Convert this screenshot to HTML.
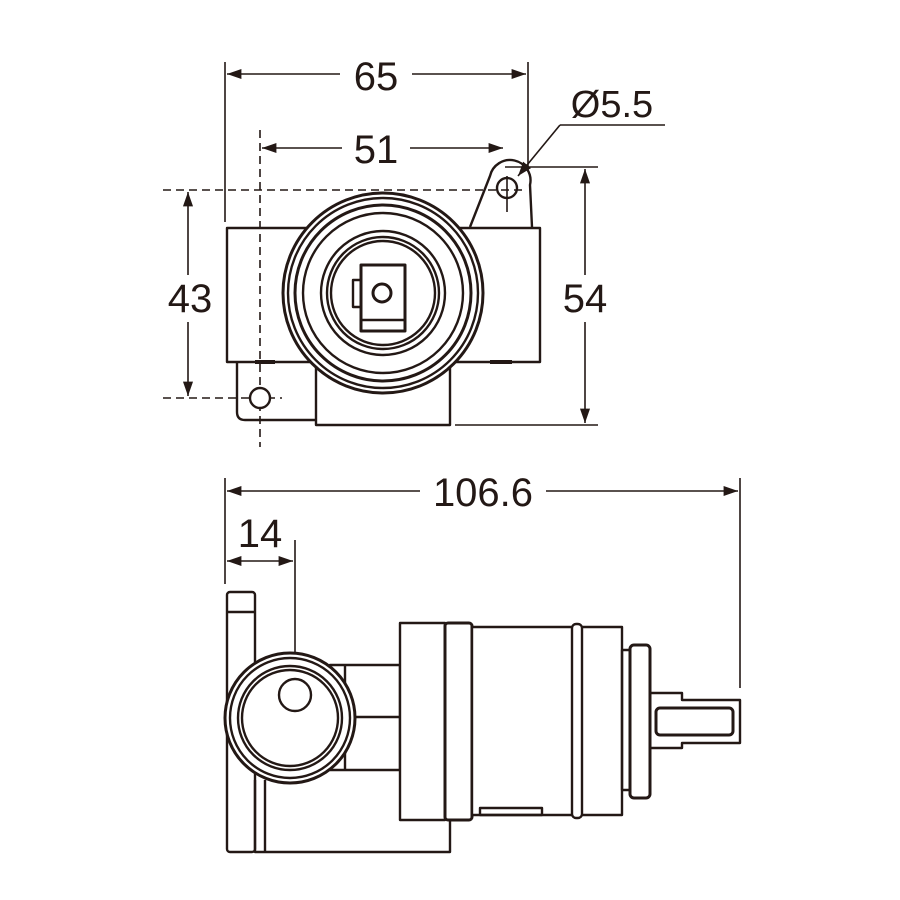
<!DOCTYPE html>
<html><head><meta charset="utf-8"><style>html,body{margin:0;padding:0;background:#fff}svg{display:block}</style></head>
<body>
<svg width="900" height="900" viewBox="0 0 900 900" xmlns="http://www.w3.org/2000/svg">
<defs>
<marker id="a" viewBox="0 0 10 10" refX="10" refY="5" markerWidth="9" markerHeight="9" orient="auto-start-reverse"><path d="M0,1.5 L10,5 L0,8.5 z" fill="#231815"/></marker>
</defs>
<g font-family="Liberation Sans Narrow, Liberation Sans, sans-serif" font-size="40" fill="#231815" text-anchor="middle">
<text x="376" y="90">65</text>
<text x="376" y="163">51</text>
<text x="612" y="117" font-size="38">Ø5.5</text>
<text x="190" y="312">43</text>
<text x="585" y="312">54</text>
<text x="483" y="506">106.6</text>
<text x="260" y="547">14</text>
</g>
<g stroke="#231815" stroke-width="1.6" fill="none">
<line x1="225" y1="62" x2="225" y2="222"/>
<line x1="528" y1="62" x2="528" y2="170"/>
<line x1="227" y1="74" x2="340" y2="74" marker-start="url(#a)"/>
<line x1="412" y1="74" x2="526" y2="74" marker-end="url(#a)"/>
<line x1="262" y1="148" x2="342" y2="148" marker-start="url(#a)"/>
<line x1="410" y1="148" x2="503" y2="148" marker-end="url(#a)"/>
<line x1="560" y1="125" x2="665" y2="125"/>
<line x1="560" y1="125" x2="518" y2="176" marker-end="url(#a)"/>
<line x1="260" y1="130" x2="260" y2="447" stroke-dasharray="8,5"/>
<line x1="163" y1="190" x2="522" y2="190" stroke-dasharray="8,5"/>
<line x1="163" y1="398" x2="282" y2="398" stroke-dasharray="8,5"/>
<line x1="188" y1="192" x2="188" y2="275" marker-start="url(#a)"/>
<line x1="188" y1="322" x2="188" y2="396" marker-end="url(#a)"/>
<line x1="505" y1="167" x2="598" y2="167"/>
<line x1="455" y1="425" x2="598" y2="425"/>
<line x1="585" y1="169" x2="585" y2="275" marker-start="url(#a)"/>
<line x1="585" y1="322" x2="585" y2="423" marker-end="url(#a)"/>
<line x1="507" y1="176" x2="507" y2="212"/>
<line x1="225" y1="478" x2="225" y2="584"/>
<line x1="740" y1="478" x2="740" y2="688"/>
<line x1="227" y1="491" x2="420" y2="491" marker-start="url(#a)"/>
<line x1="546" y1="491" x2="738" y2="491" marker-end="url(#a)"/>
<line x1="227" y1="561" x2="293" y2="561" marker-start="url(#a)" marker-end="url(#a)"/>
<line x1="295" y1="540" x2="295" y2="700"/>
</g>
<g stroke="#231815" stroke-width="2.4" fill="none" stroke-linejoin="round">
<path d="M470,227 L490,176 A20,20 0 0 1 530,185 L532,227"/>
<circle cx="507" cy="188" r="10"/>
<rect x="227" y="228" width="313" height="134"/>
<path d="M237,362 L237,412 Q237,420 245,420 L316,420"/>
<rect x="316" y="362" width="134" height="63" fill="#fff"/>
<circle cx="260" cy="398" r="10" fill="#fff"/>
<circle cx="383" cy="293" r="100" fill="#fff" stroke-width="3"/>
<circle cx="383" cy="293" r="95"/>
<circle cx="383" cy="293" r="88" stroke-width="3"/>
<circle cx="383" cy="293" r="80"/>
<circle cx="383" cy="293" r="62"/>
<circle cx="383" cy="293" r="56"/>
<circle cx="383" cy="293" r="52"/>
<rect x="361" y="265" width="44" height="66" stroke-width="3"/>
<path d="M361,280 L353,280 L353,307 L361,307"/>
<line x1="361" y1="320" x2="405" y2="320"/>
<circle cx="382" cy="293" r="9" stroke-width="3"/>
<line x1="255" y1="362" x2="275" y2="362" stroke-width="4"/>
<line x1="490" y1="362" x2="512" y2="362" stroke-width="4"/>
<rect x="227" y="592" width="28" height="260" rx="3"/>
<line x1="227" y1="612" x2="255" y2="612"/>
<path d="M255,780 L255,852 L450,852 L450,780"/>
<line x1="265" y1="780" x2="265" y2="852"/>
<rect x="330" y="665" width="70" height="105"/>
<line x1="345" y1="665" x2="345" y2="770"/>
<line x1="330" y1="717" x2="400" y2="717"/>
<circle cx="290" cy="718" r="65" fill="#fff" stroke-width="3"/>
<circle cx="290" cy="718" r="60"/>
<circle cx="290" cy="718" r="52"/>
<circle cx="290" cy="718" r="48"/>
<circle cx="295" cy="695" r="16"/>
<rect x="400" y="623" width="45" height="197" fill="#fff"/>
<rect x="445" y="623" width="27" height="197" rx="3" fill="#fff" stroke-width="3"/>
<rect x="472" y="627" width="150" height="188" fill="#fff"/>
<rect x="572" y="624" width="10" height="194" rx="4" fill="#fff"/>
<rect x="480" y="808" width="62" height="7"/>
<rect x="622" y="650" width="8" height="140"/>
<rect x="630" y="645" width="20" height="153" rx="4" fill="#fff" stroke-width="3"/>
<path d="M650,693 L682,693 L682,700 L740,700 L740,743 L682,743 L682,748 L650,748"/>
<rect x="656" y="708" width="77" height="27" rx="4" stroke-width="3"/>
</g>
</svg>
</body></html>
